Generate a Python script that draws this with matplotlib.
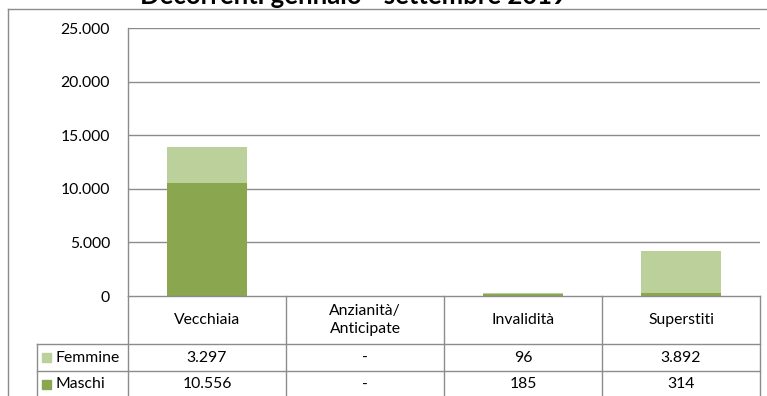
import matplotlib
matplotlib.use("Agg")
import matplotlib.pyplot as plt
from matplotlib.lines import Line2D
from matplotlib.patches import Rectangle

# Data
categories = ["Vecchiaia", "Anzianità/\nAnticipate", "Invalidità", "Superstiti"]
series_names = ["Femmine", "Maschi"]
maschi = [10556, 0, 185, 314]
femmine = [3297, 0, 96, 3892]
maschi_labels = ["10.556", "-", "185", "314"]
femmine_labels = ["3.297", "-", "96", "3.892"]
y_ticks = [0, 5000, 10000, 15000, 20000, 25000]
y_tick_labels = ["0", "5.000", "10.000", "15.000", "20.000", "25.000"]
title = "Decorrenti gennaio - settembre 2019"

col_maschi = "#8AA64E"
col_femmine = "#BBD09A"
grid_col = "#8C8C8C"
text_col = "#000000"
fs = 11.3

W, H = 767, 396
plt.rcParams["font.family"] = ["Lato", "DejaVu Sans"]

fig = plt.figure(figsize=(W / 100, H / 100), dpi=100)


def fx(x):
    return x / W


def fy(y):
    return 1 - y / H


# plot area in pixels
left, right, top, bottom = 128, 760, 28, 296
ax = fig.add_axes([fx(left), fy(bottom), fx(right - left), (bottom - top) / H])
ax.set_xlim(-0.5, len(categories) - 0.5)
ax.set_ylim(0, 25000)
xs = list(range(len(categories)))
ax.bar(xs, maschi, width=0.51, color=col_maschi, zorder=3)
ax.bar(xs, femmine, bottom=maschi, width=0.51, color=col_femmine, zorder=3)
for t in y_ticks[1:]:
    ax.axhline(t, color=grid_col, lw=1.0, zorder=1)
ax.set_yticks(y_ticks)
ax.set_yticklabels(y_tick_labels, fontsize=fs, color=text_col)
ax.tick_params(axis="y", length=0, pad=13)
ax.set_xticks([])
for s in ["top", "right", "bottom"]:
    ax.spines[s].set_visible(False)
ax.spines["left"].set_color(grid_col)
ax.spines["left"].set_linewidth(1.0)


def hline(y, x0, x1):
    fig.add_artist(Line2D([fx(x0), fx(x1)], [fy(y), fy(y)], color=grid_col, lw=1.0))


def vline(x, y0, y1):
    fig.add_artist(Line2D([fx(x), fx(x)], [fy(y0), fy(y1)], color=grid_col, lw=1.0))


# outer chart frame
hline(9, 7.5, W)
vline(7.5, 9, H)

# data table below the plot
col_w = (right - left) / len(categories)
legend_left = 37
y_head, y_f, y_m = 320, 357.5, 384.5

hline(296, left, right)
hline(344, legend_left, right)
hline(371, legend_left, right)
for i in range(len(categories) + 1):
    vline(left + i * col_w, 296, H)
vline(legend_left, 344, H)

for i, cat in enumerate(categories):
    cx = left + (i + 0.5) * col_w
    fig.text(fx(cx), fy(y_head), cat, ha="center", va="center",
             fontsize=fs, color=text_col, linespacing=1.35)
    fig.text(fx(cx), fy(y_f), femmine_labels[i], ha="center",
             va="center", fontsize=fs, color=text_col)
    fig.text(fx(cx), fy(y_m), maschi_labels[i], ha="center",
             va="center", fontsize=fs, color=text_col)

for name, col, yc in [(series_names[0], col_femmine, y_f), (series_names[1], col_maschi, y_m)]:
    fig.add_artist(Rectangle((fx(42), fy(yc + 4.5)), 9 / W, 9 / H, color=col,
                             transform=fig.transFigure))
    fig.text(fx(56), fy(yc), name, ha="left", va="center", fontsize=fs, color=text_col)

fig.text(fx(353), fy(4.5), title, ha="center", va="baseline", fontsize=18.5,
         fontweight="bold", color=text_col)

fig.savefig("out.png", dpi=100)
